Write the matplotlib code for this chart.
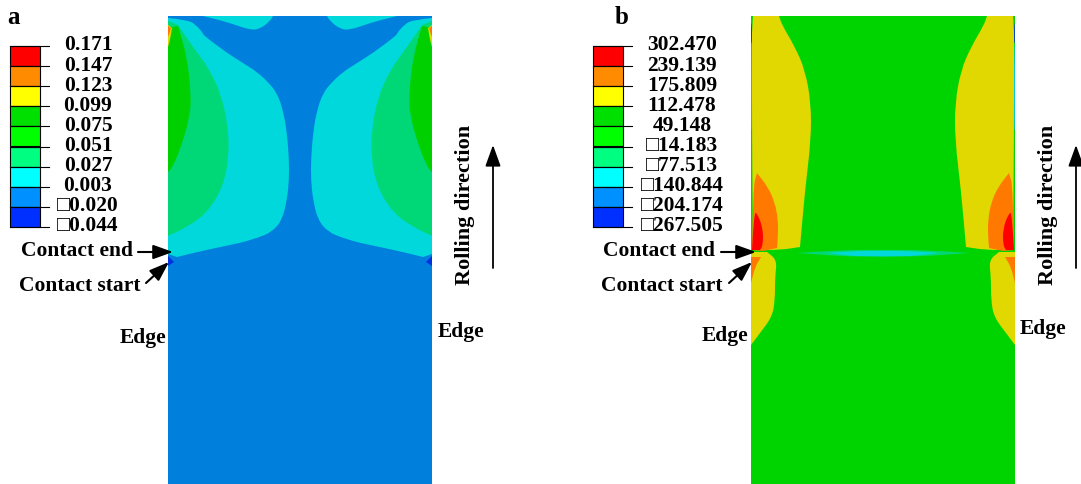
# Contour maps of the rolled plate, a and b
import matplotlib
matplotlib.use('Agg')
import numpy as np
import matplotlib.pyplot as plt
from matplotlib.path import Path
from matplotlib.patches import PathPatch

plt.rcParams['font.family'] = ['Liberation Serif', 'DejaVu Sans']
plt.rcParams['font.weight'] = 'bold'

# Legend values
labels_a = ['0.171', '0.147', '0.123', '0.099', '0.075', '0.051', '0.027', '0.003', '\u25a10.020', '\u25a10.044']
labels_b = ['302.470', '239.139', '175.809', '112.478', '49.148', '\u25a114.183', '\u25a177.513',
            '\u25a1140.844', '\u25a1204.174', '\u25a1267.505']
legend_colors = ['#ff0000', '#ff8c00', '#ffff00', '#00e000', '#00ff00', '#00ff80', '#00ffff', '#0090ff', '#0030ff']

# Contour outlines of panel a, left half, pixels of the picture
# a repeated point stays a sharp corner
a_top = [(203, 16), (273, 16), (273, 16), (270, 21), (260, 29), (250, 30), (230, 23), (215, 19)]
a_cyan = [(168, 18), (187, 20), (195, 24), (203, 33), (203, 35), (227, 53), (243, 63), (257, 72), (268, 82), (277, 93),
          (283, 110), (287, 133), (289, 160), (289, 180), (287, 200), (282, 220), (272, 232), (257, 238), (240, 243),
          (220, 247), (193, 253), (177, 257), (177, 257), (168, 254)]
a_mint = [(168, 21), (178, 25), (178, 25), (193, 47), (210, 70), (222, 97), (228, 127), (229, 157), (223, 187),
          (207, 213), (187, 227), (168, 236)]
a_green = [(168, 28), (178, 26), (178, 26), (187, 57), (191, 93), (190, 117), (180, 150), (172, 168), (168, 172)]
a_yellow = [(168, 25), (172, 28), (172, 28), (170, 40), (168, 47)]
a_orange = [(168, 26), (171, 28), (171, 28), (169, 35), (168, 36)]
a_blue = [(168, 256), (174, 262), (174, 262), (168, 266)]

# Contour outlines of panel b, left half
b_yellow = [(753, 16), (779, 16), (779, 16), (782, 25), (795, 47), (805, 70), (811, 103), (811, 140), (805, 190),
            (800, 247), (800, 247), (780, 250), (753, 250), (753, 250), (752, 133), (752, 67), (752, 33)]
b_orange = [(752, 250), (753, 187), (757, 173), (757, 173), (768, 187), (775, 203), (778, 220), (778, 235), (777, 248),
            (777, 248), (763, 251)]
b_red = [(752, 250), (754, 213), (757, 213), (763, 228), (763, 245), (760, 250)]
b_low_yellow = [(751, 252), (767, 252), (767, 252), (777, 260), (775, 277), (775, 300), (772, 317), (760, 333), (751, 345)]
b_low_orange = [(751, 257), (761, 257), (761, 257), (755, 267), (751, 283)]
b_edge_blue = [(751, 23), (752, 23), (752, 43), (751, 43)]
b_edge_cyan = [(751, 43), (752, 43), (752, 130), (751, 130)]
b_lens_mint = [(797, 253), (840, 250), (883, 250), (883, 250), (883, 257), (883, 257), (840, 256)]
b_lens_cyan = [(827, 253), (855, 251), (883, 251), (883, 251), (883, 256), (883, 256), (855, 256)]


def smooth_path(pts):
    # quadratic pieces between the midpoints, the outline points are the controls
    verts = [pts[0]]
    codes = [Path.MOVETO]
    for i in range(1, len(pts) - 1):
        verts += [pts[i], (pts[i] + pts[i + 1]) / 2]
        codes += [Path.CURVE3, Path.CURVE3]
    verts += [pts[-1], pts[0]]
    codes += [Path.LINETO, Path.CLOSEPOLY]
    return Path(verts, codes)


def mirrored(ax, outline, center, color):
    # each contour shows up on both edges of the plate
    pts = np.array(outline, dtype=float)
    flip = pts.copy()
    flip[:, 0] = 2 * center - flip[:, 0]
    ax.add_patch(PathPatch(smooth_path(pts), facecolor=color, lw=0))
    ax.add_patch(PathPatch(smooth_path(flip), facecolor=color, lw=0))


def legend(ax, x0, text_x, labels):
    tops = 46 + 20.1 * np.arange(9)
    ax.bar([x0 + 15] * 9, [20.1] * 9, width=30, bottom=tops, color=legend_colors, edgecolor='black', lw=0.8)
    for i, lab in enumerate(labels):
        y = 46 + 20.1 * i
        ax.plot([x0, x0 + 39], [y, y], color='black', lw=0.8)
        ax.text(text_x, y - 0.5, lab, ha='center', va='center', fontsize=15.5)


def note(ax, txt, x, y, tail, head):
    ax.text(x, y, txt, ha='left', va='center', fontsize=15.5)
    ax.annotate('', xy=head, xytext=tail,
                arrowprops=dict(arrowstyle='-|>,head_width=0.43,head_length=1.2', color='black', lw=1.5, shrinkA=0, shrinkB=0))


fig = plt.figure(figsize=(10.81, 4.84), dpi=100)
ax = fig.add_axes([0, 0, 1, 1])
ax.set_xlim(0, 1081)
ax.set_ylim(484, 0)
ax.axis('off')

# Panel a
ax.fill([168, 432, 432, 168], [16, 16, 484, 484], color='#0080dc', lw=0)
for outline, col in [(a_top, '#00d8dc'), (a_cyan, '#00d8dc'), (a_mint, '#00d878'), (a_green, '#00d000'),
                     (a_yellow, '#e0d800'), (a_orange, '#ff7800'), (a_blue, '#0030e0')]:
    mirrored(ax, outline, 300, col)

# Panel b
ax.fill([751, 1015, 1015, 751], [16, 16, 484, 484], color='#00d400', lw=0)
for outline, col in [(b_yellow, '#e0d800'), (b_orange, '#ff7800'), (b_red, '#ff0000'), (b_low_yellow, '#e0d800'),
                     (b_low_orange, '#ff7800'), (b_edge_blue, '#0040e0'), (b_edge_cyan, '#00c8e0'),
                     (b_lens_mint, '#00d878'), (b_lens_cyan, '#00d8dc')]:
    mirrored(ax, outline, 883, col)

legend(ax, 10, 88, labels_a)
legend(ax, 593, 682, labels_b)

ax.text(13, 24, 'a', ha='center', va='baseline', fontsize=18)
ax.text(622, 24, 'b', ha='center', va='baseline', fontsize=18)

note(ax, 'Contact end', 21, 251, (138, 252), (173, 252))
note(ax, 'Contact start', 19, 286, (146, 283), (169, 262))
note(ax, 'Contact end', 603, 251, (721, 252), (756, 252))
note(ax, 'Contact start', 601, 286, (729, 283), (752, 262))

ax.text(120, 338, 'Edge', ha='left', va='center', fontsize=15.5)
ax.text(438, 332, 'Edge', ha='left', va='center', fontsize=15.5)
ax.text(702, 336, 'Edge', ha='left', va='center', fontsize=15.5)
ax.text(1020, 329, 'Edge', ha='left', va='center', fontsize=15.5)

ax.text(465, 205, 'Rolling direction', rotation=90, ha='center', va='center', fontsize=16)
ax.text(1048, 205, 'Rolling direction', rotation=90, ha='center', va='center', fontsize=16)
for xa in [493, 1076]:
    ax.annotate('', xy=(xa, 145), xytext=(xa, 268),
                arrowprops=dict(arrowstyle='-|>,head_width=0.47,head_length=1.3', color='black', lw=1.3, shrinkA=0, shrinkB=0))

fig.savefig('out.png', dpi=100)
